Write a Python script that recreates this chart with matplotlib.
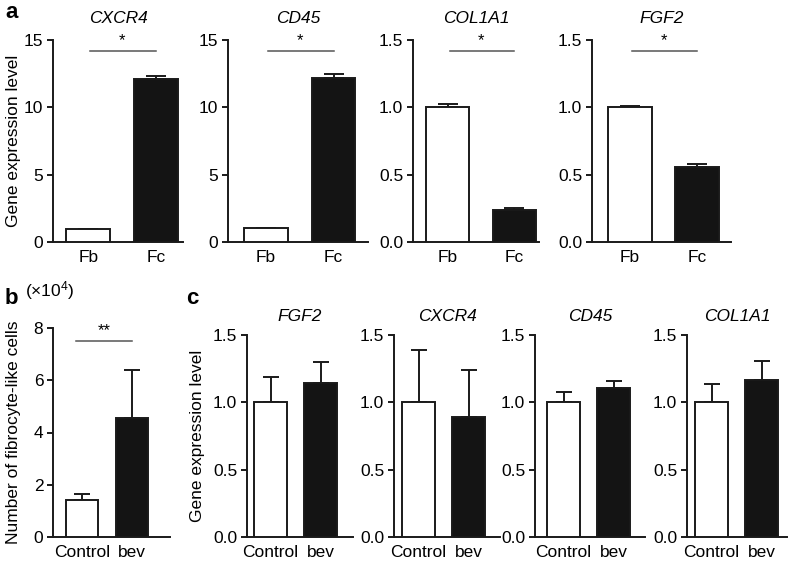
import matplotlib
matplotlib.use('Agg')
import matplotlib.pyplot as plt

plt.rcParams['font.family'] = ['Liberation Sans', 'DejaVu Sans']
plt.rcParams['font.size'] = 12
plt.rcParams['mathtext.fontset'] = 'custom'
plt.rcParams['mathtext.rm'] = 'Liberation Sans'
plt.rcParams['mathtext.it'] = 'Liberation Sans:italic'

# panel a: Fb vs Fc
a_genes = ['CXCR4', 'CD45', 'COL1A1', 'FGF2']
a_groups = ['Fb', 'Fc']
a_means = [[1.0, 12.1], [1.05, 12.2], [1.0, 0.24], [1.0, 0.555]]
a_err = [[0.0, 0.25], [0.0, 0.3], [0.025, 0.012], [0.012, 0.025]]
a_ymax = [15, 15, 1.5, 1.5]
a_ticks = [[0, 5, 10, 15], [0, 5, 10, 15], [0.0, 0.5, 1.0, 1.5], [0.0, 0.5, 1.0, 1.5]]
a_ticklabels = [['0', '5', '10', '15'], ['0', '5', '10', '15'],
                ['0.0', '0.5', '1.0', '1.5'], ['0.0', '0.5', '1.0', '1.5']]
a_sig = ['*', '*', '*', '*']

# panel b: fibrocyte-like cells (x10^4)
b_groups = ['Control', 'bev']
b_means = [1.4, 4.57]
b_err = [0.25, 1.82]
b_ticks = [0, 2, 4, 6, 8]
b_sig = '**'

# panel c: Control vs bev
c_genes = ['FGF2', 'CXCR4', 'CD45', 'COL1A1']
c_groups = ['Control', 'bev']
c_means = [[1.0, 1.14], [1.0, 0.89], [1.0, 1.11], [1.0, 1.165]]
c_err = [[0.19, 0.16], [0.39, 0.35], [0.077, 0.047], [0.136, 0.14]]
c_ticks = [0.0, 0.5, 1.0, 1.5]
c_ticklabels = ['0.0', '0.5', '1.0', '1.5']

W, H = 788, 566
INK = '#1a1a1a'
LW = 1.4


def box(l, t, r, b):
    return [l / W, 1 - b / H, (r - l) / W, (b - t) / H]


def style(ax):
    for s in ['top', 'right']:
        ax.spines[s].set_visible(False)
    for s in ['left', 'bottom']:
        ax.spines[s].set_linewidth(LW)
        ax.spines[s].set_color(INK)
    ax.tick_params(axis='y', length=4, width=LW, color=INK, labelsize=12.5, pad=3)
    ax.tick_params(axis='x', length=0, labelsize=12.5, pad=6)


def bars(ax, groups, means, err, width, capsize):
    x = list(range(len(groups)))
    ax.bar(x, means, width=width, color=['white', '#141414'],
           edgecolor=INK, linewidth=LW, zorder=3)
    ax.errorbar(x, means, yerr=[[0] * len(err), err], fmt='none',
                ecolor=INK, elinewidth=LW, capsize=capsize, capthick=LW, zorder=2)
    ax.set_xticks(x)
    ax.set_xticklabels(groups)


fig = plt.figure(figsize=(W / 100, H / 100), dpi=100)

a_boxes = [(53, 40, 183, 242), (228, 40, 368, 242), (413, 40, 539, 242), (592, 40, 731, 242)]
a_xlims = [(-0.52, 1.40), (-0.56, 1.51), (-0.52, 1.37), (-0.56, 1.50)]
for i in range(4):
    ax = fig.add_axes(box(*a_boxes[i]))
    bars(ax, a_groups, a_means[i], a_err[i], 0.65, 7)
    ax.set_xlim(*a_xlims[i])
    ax.set_ylim(0, a_ymax[i])
    ax.set_yticks(a_ticks[i])
    ax.set_yticklabels(a_ticklabels[i])
    style(ax)
    ax.set_title(a_genes[i], style='italic', fontsize=12.5, pad=12)
    ys = a_ymax[i] * 0.945
    ax.plot([0.03, 1.0], [ys, ys], color='#555555', lw=1.1, clip_on=False)
    ax.text(0.5, a_ymax[i] * 0.962, a_sig[i], ha='center', va='bottom', fontsize=12,
            clip_on=False)

fig.text(14 / W, 1 - 141 / H, 'Gene expression level', rotation=90,
         ha='center', va='center', fontsize=12.5)
fig.text(5 / W, 1 - 12 / H, 'a', fontsize=16, fontweight='bold', ha='left', va='center')

# panel b
ax = fig.add_axes(box(53, 328, 170, 537))
bars(ax, b_groups, b_means, b_err, 0.64, 5.5)
ax.set_xlim(-0.58, 1.76)
ax.set_ylim(0, 8)
ax.set_yticks(b_ticks)
style(ax)
ax.plot([-0.12, 1.0], [7.5, 7.5], color='#555555', lw=1.1, clip_on=False)
ax.text(0.44, 7.6, b_sig, ha='center', va='bottom', fontsize=12)
fig.text(50 / W, 1 - 291 / H, r'($\times$10$^{4}$)', ha='center', va='center', fontsize=12.5)
fig.text(14 / W, 1 - 432 / H, 'Number of fibrocyte-like cells', rotation=90,
         ha='center', va='center', fontsize=12.5)
fig.text(5 / W, 1 - 298 / H, 'b', fontsize=16, fontweight='bold', ha='left', va='center')

# panel c
c_boxes = [(247, 335, 353, 537), (394, 335, 500, 537), (535, 335, 645, 537), (687, 335, 787, 537)]
c_xlims = [(-0.47, 1.65), (-0.49, 1.63), (-0.57, 1.63), (-0.49, 1.51)]
for i in range(4):
    ax = fig.add_axes(box(*c_boxes[i]))
    bars(ax, c_groups, c_means[i], c_err[i], 0.66, 6)
    ax.set_xlim(*c_xlims[i])
    ax.set_ylim(0, 1.5)
    ax.set_yticks(c_ticks)
    ax.set_yticklabels(c_ticklabels)
    style(ax)
    ax.set_title(c_genes[i], style='italic', fontsize=12.5, pad=10)

fig.text(198 / W, 1 - 436 / H, 'Gene expression level', rotation=90,
         ha='center', va='center', fontsize=12.5)
fig.text(186 / W, 1 - 298 / H, 'c', fontsize=16, fontweight='bold', ha='left', va='center')

fig.savefig('out.png', dpi=100)
